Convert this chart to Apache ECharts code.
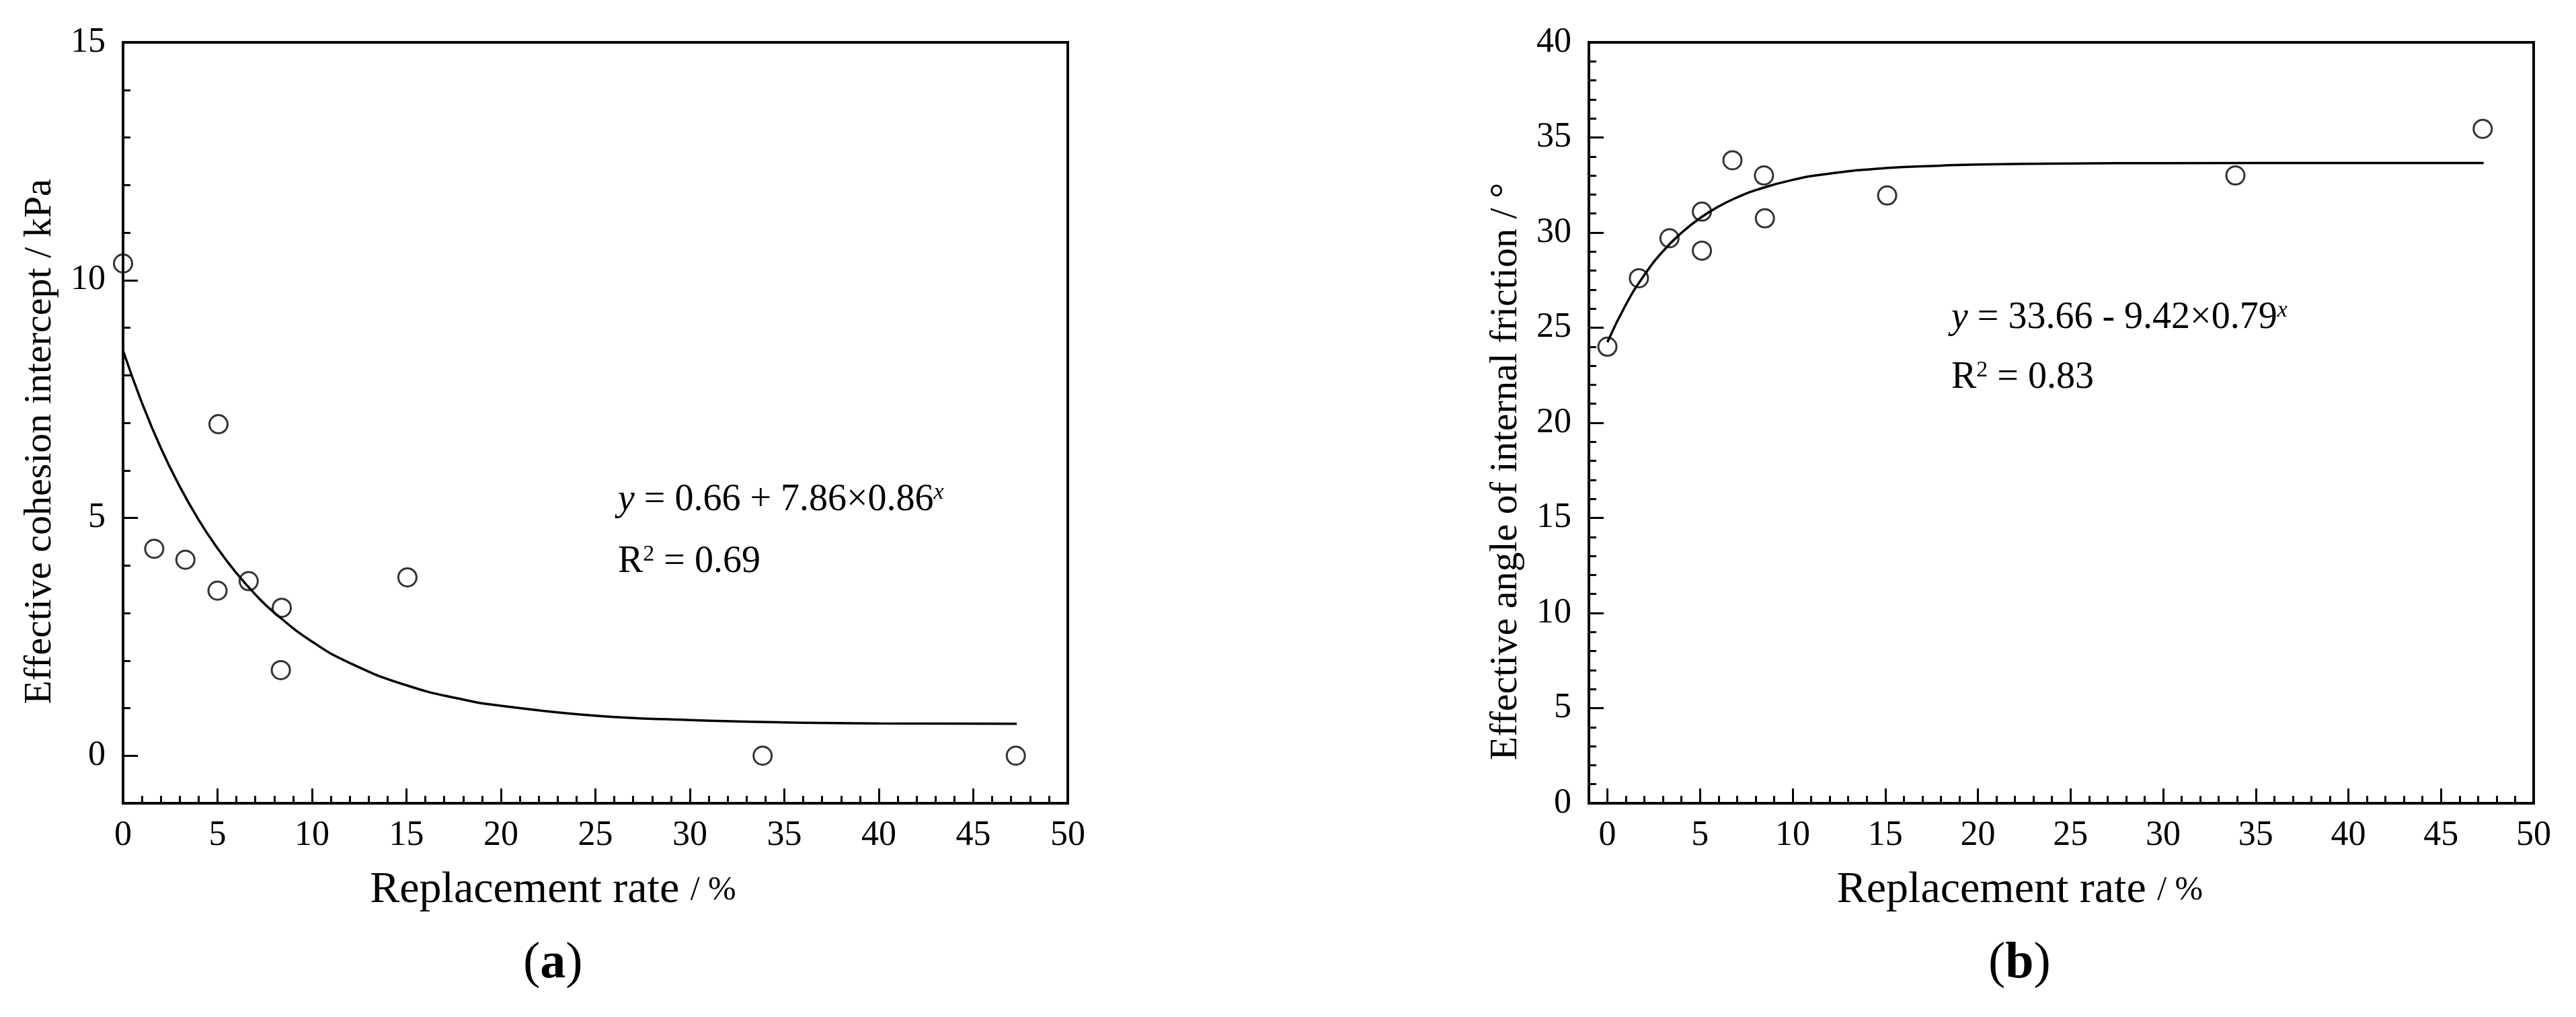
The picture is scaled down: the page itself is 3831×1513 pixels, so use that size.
<!DOCTYPE html>
<html>
<head>
<meta charset="utf-8">
<title>Replacement rate vs. effective strength parameters</title>
<script src="https://cdn.jsdelivr.net/npm/echarts@6.0.0/dist/echarts.min.js"></script>
<style>
  html, body { margin: 0; padding: 0; background: #fff; }
  #chart { width: 3831px; height: 1513px; }
</style>
</head>
<body>
<div id="chart"></div>
<script>
// (a) effective cohesion intercept, kPa
const rateA = [0, 1.65, 3.3, 5.0, 5.05, 6.65, 8.4, 8.35, 15.05, 33.85, 47.25]
const cohesionA = [10.35, 4.35, 4.12, 3.47, 6.97, 3.67, 3.11, 1.8, 3.75, 0, 0]
// fitted curve
const fitXA = [0, 1, 2, 3, 4, 5, 6, 7, 8, 10, 12, 15, 18, 20, 25, 30, 35, 40, 47.3]
const fitYA = [8.52, 7.42, 6.47, 5.66, 4.96, 4.36, 3.84, 3.39, 3.01, 2.40, 1.95, 1.48, 1.18, 1.05, 0.84, 0.75, 0.70, 0.68, 0.67]

// (b) effective angle of internal friction, degrees
const rateB = [0, 1.7, 3.35, 5.1, 5.1, 6.75, 8.45, 8.5, 15.1, 33.9, 47.25]
const angleB = [24.0, 27.6, 29.7, 31.1, 29.05, 33.8, 33.0, 30.75, 31.95, 33.0, 35.45]
const fitXB = [0, 1, 2, 3, 4, 5, 6, 7, 8, 10, 12, 15, 18, 20, 25, 30, 40, 47.3]
const fitYB = [24.24, 26.22, 27.78, 29.02, 29.99, 30.76, 31.37, 31.85, 32.23, 32.77, 33.10, 33.39, 33.52, 33.58, 33.63, 33.65, 33.66, 33.66]

// axis ranges [min, max], labelled every 5, small ticks every 1
const rangeXA = [0, 50]
const rangeYA = [-1, 15]
const rangeXB = [-1, 50]
const rangeYB = [0, 40]
const majorStep = 5
const minorStep = 1

const FONT = '"Liberation Serif", "Times New Roman", serif'

function pairs(xs, ys) {
  return xs.map((x, i) => [x, ys[i]])
}

// one axis with labels + long ticks, one with the short ticks only
// axes sit on their own canvas layer (zlevel 1)
function axisPair(type, grid, range, extra) {
  const pos = type === 'x' ? 'bottom' : 'left'
  const major = Object.assign({
    type: 'value', gridIndex: grid, min: range[0], max: range[1], position: pos,
    zlevel: 1, z: 5,
    minInterval: majorStep, maxInterval: majorStep,
    axisLine: {show: true, onZero: false, lineStyle: {color: '#000', width: 4}},
    splitLine: {show: false},
    axisTick: {show: true, inside: true, length: 22, lineStyle: {color: '#000', width: 3}},
    axisLabel: {
      margin: type === 'x' ? 22 : 26, fontSize: 52, fontFamily: FONT, color: '#000',
      showMinLabel: range[0] % majorStep === 0,
      formatter: v => (v % majorStep === 0 ? String(v) : '')
    }
  }, extra)
  if (range[0] % majorStep === 0) major.interval = majorStep
  const minor = {
    type: 'value', gridIndex: grid, min: range[0], max: range[1], position: pos,
    zlevel: 1, z: 5,
    interval: minorStep,
    axisLine: {show: false, onZero: false},
    splitLine: {show: false},
    axisLabel: {show: false},
    axisTick: {show: true, inside: true, length: 11, lineStyle: {color: '#000', width: 3}}
  }
  return [major, minor]
}

function xName(pad) {
  return {
    name: 'Replacement rate {s|/ %}',
    nameLocation: 'middle',
    nameGap: 97,
    nameTextStyle: {
      fontSize: 66, fontFamily: FONT, color: '#000', padding: [0, pad, 0, 0],
      rich: {s: {fontSize: 50, fontFamily: FONT, color: '#000'}}
    }
  }
}

function yName(text, pad) {
  return {
    name: text,
    nameLocation: 'middle',
    nameGap: 94,
    nameTextStyle: {fontSize: 58, fontFamily: FONT, color: '#000', padding: [0, pad, 0, 0]}
  }
}

const eqRich = {
  i: {fontSize: 56, fontStyle: 'italic', fontFamily: FONT, color: '#000'},
  sup: {fontSize: 34, fontStyle: 'italic', fontFamily: FONT, color: '#000', verticalAlign: 'top'},
  n: {fontSize: 34, fontFamily: FONT, color: '#000', verticalAlign: 'top'}
}

function eqText(left, top, text) {
  return {
    text: text, left: left, top: top, padding: 0, zlevel: 2,
    textStyle: {fontSize: 56, fontWeight: 'normal', fontFamily: FONT, color: '#000', rich: eqRich}
  }
}

function panelLabel(left, letter) {
  return {
    text: '{p|(}{b|' + letter + '}{p|)}', left: left, top: 1394, padding: 0, zlevel: 2,
    textStyle: {
      fontSize: 76, fontWeight: 'normal', fontFamily: FONT, color: '#000',
      rich: {
        p: {fontSize: 76, lineHeight: 80, fontFamily: FONT, color: '#000'},
        b: {fontSize: 76, lineHeight: 80, fontWeight: 'bold', fontFamily: FONT, color: '#000'}
      }
    }
  }
}

const chart = echarts.init(document.getElementById('chart'))
chart.setOption({
  animation: false,
  title: [
    eqText(919, 716, '{i|y} = 0.66 + 7.86×0.86{sup|x}'),
    eqText(919, 808, 'R{n|2} = 0.69'),
    eqText(2902, 445, '{i|y} = 33.66 - 9.42×0.79{sup|x}'),
    eqText(2902, 534, 'R{n|2} = 0.83'),
    panelLabel(778, 'a'),
    panelLabel(2957, 'b')
  ],
  grid: [
    {left: 183, top: 63, width: 1405, height: 1132, show: true, borderColor: '#000', borderWidth: 4},
    {left: 2363, top: 63, width: 1405, height: 1132, show: true, borderColor: '#000', borderWidth: 4}
  ],
  xAxis: [].concat(
    axisPair('x', 0, rangeXA, xName(126)),
    axisPair('x', 1, rangeXB, xName(123))
  ),
  yAxis: [].concat(
    axisPair('y', 0, rangeYA, yName('Effective cohesion intercept / kPa', 56)),
    axisPair('y', 1, rangeYB, yName('Effective angle of internal friction / °', 145))
  ),
  series: [
    {
      type: 'line', xAxisIndex: 0, yAxisIndex: 0,
      data: pairs(fitXA, fitYA),
      smooth: 0.5, symbol: 'none',
      lineStyle: {color: '#000', width: 3.5}
    },
    {
      type: 'scatter', xAxisIndex: 0, yAxisIndex: 0,
      data: pairs(rateA, cohesionA),
      symbol: 'circle', symbolSize: 27, z: 3,
      itemStyle: {color: 'rgba(0,0,0,0)', borderColor: '#000', borderWidth: 3}
    },
    {
      type: 'line', xAxisIndex: 2, yAxisIndex: 2,
      data: pairs(fitXB, fitYB),
      smooth: 0.5, symbol: 'none',
      lineStyle: {color: '#000', width: 3.5}
    },
    {
      type: 'scatter', xAxisIndex: 2, yAxisIndex: 2,
      data: pairs(rateB, angleB),
      symbol: 'circle', symbolSize: 27, z: 3,
      itemStyle: {color: 'rgba(0,0,0,0)', borderColor: '#000', borderWidth: 3}
    }
  ]
})
</script>
</body>
</html>
